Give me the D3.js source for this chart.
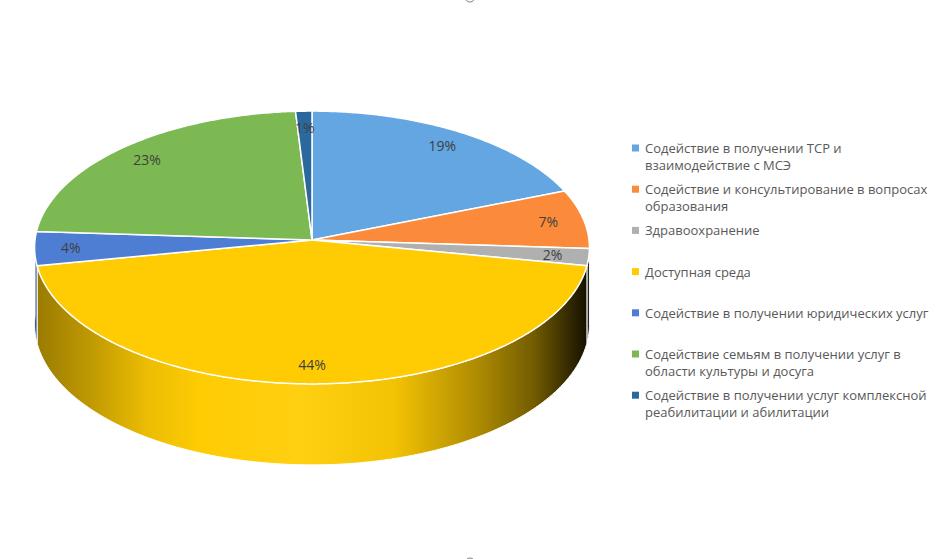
<!DOCTYPE html>
<html lang="ru">
<head>
<meta charset="UTF-8">
<title>3D круговая диаграмма</title>
<style>
  body { margin: 0; background: #fff; }
  svg { display: block; font-family: "Open Sans", "Noto Sans", sans-serif; }
</style>
</head>
<body>
<svg id="chart" width="937" height="559"></svg>
<script src="https://d3js.org/d3.v7.min.js"></script>
<script>
// data (clockwise from 12 o'clock)
const categories = [
  "Содействие в получении ТСР и\nвзаимодействие с МСЭ",
  "Содействие и консультирование в вопросах\nобразования",
  "Здравоохранение",
  "Доступная среда",
  "Содействие в получении юридических услуг",
  "Содействие семьям в получении услуг в\nобласти культуры и досуга",
  "Содействие в получении услуг комплексной\nреабилитации и абилитации"
];
const values = [19, 7, 2, 44, 4, 23, 1];
const colors = ["#63a6e2", "#fb8a3b", "#b0b0b0", "#ffcc03", "#4e7ed4", "#7cb952", "#2a689e"];

const svg = d3.select("#chart");
const color = d3.scaleOrdinal().domain(categories).range(colors);

// projection of the tilted disc (slight perspective, back is smaller)
const cx = 312, cy = 240;
const A = 136, B = 277, k = 0.055, depth = 76.5;
function proj(theta, r, down) {
  const X = r * Math.sin(theta), Z = r * Math.cos(theta);
  const s = 1 / (1 + k * Z);
  return [cx + B * X * s, cy - A * Z * s + (down || 0) * s];
}
function arcPoints(a0, a1, down) {
  const n = Math.max(2, Math.ceil((a1 - a0) / 0.01));
  return d3.range(n + 1).map(i => proj(a0 + (a1 - a0) * i / n, 1, down));
}

const pie = d3.pie().sort(null).value(d => d.value).startAngle(0).endAngle(2 * Math.PI);
const arcs = pie(categories.map((c, i) => ({ name: c, value: values[i] })));
const line = d3.line();

// side wall shading: dark at the edges, bright a bit left of centre
const defs = svg.append("defs");
const shade = [[0, 0.6], [0.1, 0.75], [0.2, 0.92], [0.3, 1.0], [0.48, 1.06], [0.65, 0.95], [0.8, 0.68], [0.9, 0.45], [0.97, 0.18], [1, 0.07]];
arcs.forEach((d, i) => {
  const g = defs.append("linearGradient")
    .attr("id", "side" + i)
    .attr("gradientUnits", "userSpaceOnUse")
    .attr("x1", cx - B).attr("x2", cx + B).attr("y1", 0).attr("y2", 0);
  const base = color(d.data.name);
  shade.forEach(([t, v]) => {
    const c = v <= 1 ? d3.interpolateRgb("#000", base)(v) : d3.interpolateRgb(base, "#fff")(v - 1);
    g.append("stop").attr("offset", t).attr("stop-color", c);
  });
});

// side walls (front half only)
const sides = svg.append("g");
arcs.forEach((d, i) => {
  const s = Math.max(d.startAngle, Math.PI / 2), e = Math.min(d.endAngle, 3 * Math.PI / 2);
  if (e <= s) return;
  const pts = arcPoints(s, e, 0).concat(arcPoints(s, e, depth).reverse());
  sides.append("path")
    .attr("d", line(pts) + "Z")
    .attr("fill", `url(#side${i})`)
    .attr("stroke", "#fff")
    .attr("stroke-width", 1);
});

// top face
const face = svg.append("g");
face.selectAll("path")
  .data(arcs)
  .join("path")
  .attr("d", d => line([[cx, cy]].concat(arcPoints(d.startAngle, d.endAngle, 0))) + "Z")
  .attr("fill", d => color(d.data.name))
  .attr("stroke", "#fff")
  .attr("stroke-width", 1.5)
  .attr("stroke-linejoin", "round");

// percentage labels
const total = d3.sum(values);
face.selectAll("text")
  .data(arcs)
  .join("text")
  .attr("x", d => proj((d.startAngle + d.endAngle) / 2, 0.87)[0])
  .attr("y", d => proj((d.startAngle + d.endAngle) / 2, 0.87)[1])
  .attr("text-anchor", "middle")
  .attr("dominant-baseline", "central")
  .attr("fill", "#404040")
  .style("font-size", "14px")
  .text(d => d3.format(".0%")(d.value / total));

// legend
const legend = svg.append("g").attr("transform", "translate(632,148)");
const item = legend.selectAll("g")
  .data(categories)
  .join("g")
  .attr("transform", (d, i) => `translate(0,${i * 41.2})`);
item.append("rect")
  .attr("x", 0).attr("y", -3.5)
  .attr("width", 7).attr("height", 7)
  .attr("fill", d => color(d));
item.append("text")
  .attr("x", 13)
  .attr("fill", "#595959")
  .style("font-size", "13px")
  .attr("dominant-baseline", "central")
  .selectAll("tspan")
  .data(d => d.split("\n"))
  .join("tspan")
  .attr("x", 13)
  .attr("dy", (d, i) => i ? 17 : 0)
  .text(d => d);

// selection handles of the chart frame, barely visible at the edges
svg.append("g")
  .selectAll("circle")
  .data([[470, -3], [470, 563]])
  .join("circle")
  .attr("cx", d => d[0]).attr("cy", d => d[1]).attr("r", 5)
  .attr("fill", "#fff").attr("stroke", "#7f7f7f").attr("stroke-width", 1);
</script>
</body>
</html>
